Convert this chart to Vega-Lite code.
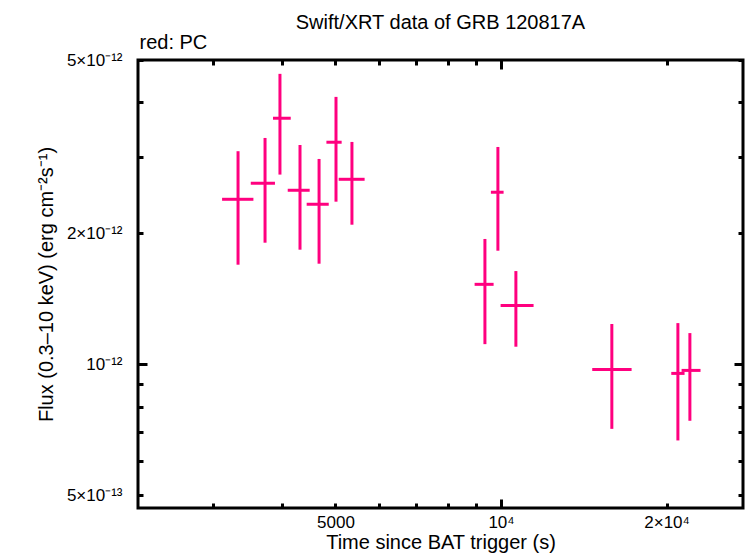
{
  "$schema": "https://vega.github.io/schema/vega-lite/v6.json",
  "autosize": "none",
  "width": 605,
  "height": 448,
  "padding": {"left": 138, "top": 60, "right": 3, "bottom": 50},
  "background": "white",
  "config": {
    "view": {"stroke": "black", "strokeWidth": 3},
    "font": "Liberation Sans",
    "axis": {
      "domain": false,
      "grid": false,
      "tickColor": "black",
      "tickWidth": 3,
      "labelColor": "black",
      "labelFont": "Liberation Sans",
      "labelFontSize": 17,
      "labelFlush": false,
      "labelOverlap": false,
      "titleColor": "black",
      "titleFont": "Liberation Sans",
      "titleFontSize": 20,
      "titleFontWeight": "normal"
    }
  },
  "title": {
    "text": "Swift/XRT data of GRB 120817A",
    "font": "Liberation Sans",
    "fontSize": 20,
    "fontWeight": "normal",
    "color": "black",
    "anchor": "middle",
    "frame": "group",
    "baseline": "alphabetic",
    "offset": 6,
    "dy": 23
  },
  "data": {
    "values": [
      {"t": 3326, "tlo": 3111, "thi": 3547, "f": 2.394e-12, "flo": 1.694e-12, "fhi": 3.087e-12},
      {"t": 3724, "tlo": 3508, "thi": 3882, "f": 2.606e-12, "flo": 1.903e-12, "fhi": 3.311e-12},
      {"t": 3964, "tlo": 3850, "thi": 4147, "f": 3.675e-12, "flo": 2.728e-12, "fhi": 4.647e-12},
      {"t": 4311, "tlo": 4095, "thi": 4489, "f": 2.511e-12, "flo": 1.834e-12, "fhi": 3.190e-12},
      {"t": 4669, "tlo": 4433, "thi": 4862, "f": 2.332e-12, "flo": 1.703e-12, "fhi": 2.963e-12},
      {"t": 5012, "tlo": 4815, "thi": 5132, "f": 3.237e-12, "flo": 2.364e-12, "fhi": 4.114e-12},
      {"t": 5358, "tlo": 5069, "thi": 5650, "f": 2.661e-12, "flo": 2.093e-12, "fhi": 3.242e-12},
      {"t": 9349, "tlo": 8954, "thi": 9695, "f": 1.527e-12, "flo": 1.113e-12, "fhi": 1.941e-12},
      {"t": 9871, "tlo": 9586, "thi": 10109, "f": 2.485e-12, "flo": 1.824e-12, "fhi": 3.157e-12},
      {"t": 10643, "tlo": 9983, "thi": 11461, "f": 1.366e-12, "flo": 1.098e-12, "fhi": 1.638e-12},
      {"t": 15904, "tlo": 14651, "thi": 17275, "f": 9.739e-13, "flo": 7.112e-13, "fhi": 1.238e-12},
      {"t": 20970, "tlo": 20397, "thi": 21563, "f": 9.535e-13, "flo": 6.689e-13, "fhi": 1.244e-12},
      {"t": 22050, "tlo": 21296, "thi": 23054, "f": 9.687e-13, "flo": 7.422e-13, "fhi": 1.180e-12}
    ]
  },
  "resolve": {"axis": {"x": "independent", "y": "independent"}},
  "layer": [
    {
      "mark": {"type": "rule", "color": "#ff007f", "strokeWidth": 3},
      "encoding": {
        "x": {
          "field": "t", "type": "quantitative",
          "scale": {"type": "log", "domain": [2188, 27540], "nice": false},
          "axis": {
            "orient": "bottom",
            "values": [3000, 4000, 5000, 6000, 7000, 8000, 9000, 20000],
            "labelExpr": "datum.value == 5000 ? '5000' : (datum.value == 20000 ? '2×10⁴' : '')",
            "tickSize": -5,
            "labelBaseline": "alphabetic",
            "labelPadding": 24,
            "title": "Time since BAT trigger (s)",
            "titleY": 40,
            "titleBaseline": "alphabetic"
          }
        },
        "y": {
          "field": "flo", "type": "quantitative",
          "scale": {"type": "log", "domain": [4.68e-13, 5e-12], "nice": false},
          "axis": {
            "orient": "left",
            "values": [5e-13, 6e-13, 7e-13, 8e-13, 9e-13, 2e-12, 3e-12, 4e-12, 5e-12],
            "labelExpr": "datum.value < 5.5e-13 ? '5×10⁻¹³' : (abs(datum.value - 2e-12) < 1e-14 ? '2×10⁻¹²' : (datum.value > 4.5e-12 ? '5×10⁻¹²' : ''))",
            "tickSize": -5,
            "labelPadding": 21,
            "title": "Flux (0.3–10 keV) (erg cm⁻²s⁻¹)",
            "titleX": -86,
            "titleY": 224,
            "titleAngle": 270,
            "titleBaseline": "alphabetic"
          }
        },
        "y2": {"field": "fhi"}
      }
    },
    {
      "mark": {"type": "rule", "color": "#ff007f", "strokeWidth": 3},
      "encoding": {
        "x": {
          "field": "tlo", "type": "quantitative",
          "axis": {
            "orient": "bottom",
            "values": [10000],
            "labelExpr": "'10⁴'",
            "tickSize": -9,
            "labelBaseline": "alphabetic",
            "labelPadding": 28,
            "title": null
          }
        },
        "x2": {"field": "thi"},
        "y": {
          "field": "f", "type": "quantitative",
          "axis": {
            "orient": "left",
            "values": [1e-12],
            "labelExpr": "'10⁻¹²'",
            "tickSize": -9,
            "labelPadding": 25,
            "title": null
          }
        }
      }
    },
    {
      "mark": {"type": "point", "opacity": 0},
      "encoding": {
        "x": {
          "field": "t", "type": "quantitative",
          "axis": {
            "orient": "top",
            "values": [3000, 4000, 5000, 6000, 7000, 8000, 9000, 20000],
            "labels": false,
            "tickSize": -5,
            "title": "red: PC",
            "titleAnchor": "start",
            "titleAlign": "left",
            "titleX": 1,
            "titleY": -12,
            "titleBaseline": "alphabetic"
          }
        },
        "y": {
          "field": "f", "type": "quantitative",
          "axis": {
            "orient": "right",
            "values": [5e-13, 6e-13, 7e-13, 8e-13, 9e-13, 2e-12, 3e-12, 4e-12, 5e-12],
            "labels": false,
            "tickSize": -5,
            "title": null
          }
        }
      }
    },
    {
      "mark": {"type": "point", "opacity": 0},
      "encoding": {
        "x": {
          "field": "t", "type": "quantitative",
          "axis": {
            "orient": "top",
            "values": [10000],
            "labels": false,
            "tickSize": -9,
            "title": null
          }
        },
        "y": {
          "field": "f", "type": "quantitative",
          "axis": {
            "orient": "right",
            "values": [1e-12],
            "labels": false,
            "tickSize": -9,
            "title": null
          }
        }
      }
    }
  ]
}
